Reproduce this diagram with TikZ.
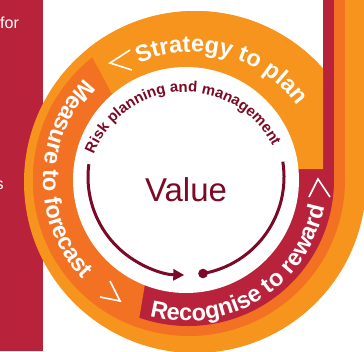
\documentclass[tikz,border=0pt]{standalone}
\usepackage{fontspec}
\setmainfont{Liberation Sans}
\usetikzlibrary{decorations.text,arrows.meta,calc}
\definecolor{lorange}{HTML}{F7941D}
\definecolor{dorange}{HTML}{F37122}
\definecolor{crimson}{HTML}{B8223A}
\definecolor{maroon}{HTML}{7C0A26}
\newcommand\bandfont{\color{white}\bfseries\fontsize{23.5}{23.5}\selectfont}
\newcommand\riskfont{\color{maroon}\bfseries\fontsize{15}{15}\selectfont}
\tikzset{
  chevron/.style={draw=white, line width=1.6pt, line join=miter},
  cycleline/.style={draw=maroon, line width=3pt},
  bandtext/.style={decorate, decoration={text along path, text align=center, text={|\bandfont|#1}}},
}
\begin{document}
\begin{tikzpicture}[x=1pt,y=-1pt]
\useasboundingbox (0,0) rectangle (364,351);
\clip (0,0) rectangle (364,351);

% side panel with cropped caption text
\fill[crimson] (0,0) rectangle (43,351);
\node[text=white, anchor=base west, inner sep=0, font=\fontsize{16}{16}\selectfont] (for) at (0,28) {for};
\node[text=white, anchor=base west, inner sep=0, font=\fontsize{16}{16}\selectfont] (s) at (-4.5,189) {s};

% outer spiral arms: light orange, dark orange, red
\fill[lorange] (195,182) circle[radius=171];
\fill[lorange] (334,-5) rectangle (370,182);
\fill[dorange] (189,180) circle[radius=156];
\fill[dorange] (334,-5) rectangle (345,180);
\fill[crimson] (188,180) circle[radius=146];
\fill[crimson] (323,-5) rectangle (334,180);

% "Measure to forecast" segment on the left
\begin{scope}
  \clip (189,180) circle[radius=156];
  \fill[dorange] (186,180) -- (118,106) -- (40,-42) -- (-20,-42) -- (-20,420)
     -- (122,420) -- (146,278) -- cycle;
\end{scope}

% "Strategy to plan" segment across the top
\begin{scope}
  \clip (195,182) circle[radius=171];
  \fill[lorange] (186,180) -- (118,106) -- (40,-42) -- (323,-42) -- (323,169)
     -- (280,169) -- cycle;
\end{scope}

% inner white disc
\fill[white] (186,180) circle[radius=113];

% direction chevrons
\draw[chevron] (130,50) -- (110,63) -- (132,70);
\draw[chevron] (309,197) -- (318,179) -- (330,197);
\draw[chevron] (110,281) -- (120,301) -- (100,297);

% band labels
\path[bandtext={Strategy to plan}] (192,182) ++(222:130) arc[start angle=222, end angle=348, radius=130];
\path[bandtext={Measure to forecast}] (186,180) ++(238:143) arc[start angle=238, end angle=123, radius=143];
\path[bandtext={Recognise to reward}] (186,180) ++(112:141) arc[start angle=112, end angle=4, radius=141];

% risk cycle
\path[decorate, decoration={text along path, text align=center,
   text={|\riskfont|Risk planning and management}}]
   (185,190) ++(192:98) arc[start angle=192, end angle=343, radius=98];
\coordinate (ctr) at (186,177);
\coordinate (arcA) at ($(ctr)+(187.5:98)$);
\coordinate (arcB) at ($(ctr)+(80:98)$);
\draw[cycleline, -{Triangle[length=11pt,width=11pt]}] (arcA) arc[start angle=187.5, end angle=91, radius=98];
\draw[cycleline] (arcB) arc[start angle=80, end angle=-9, radius=98];
\fill[maroon] (arcB) circle[radius=4.8];

\node[text=maroon, font=\fontsize{33}{33}\selectfont, inner sep=0] (value) at (186,190) {Value};
\end{tikzpicture}
\end{document}
